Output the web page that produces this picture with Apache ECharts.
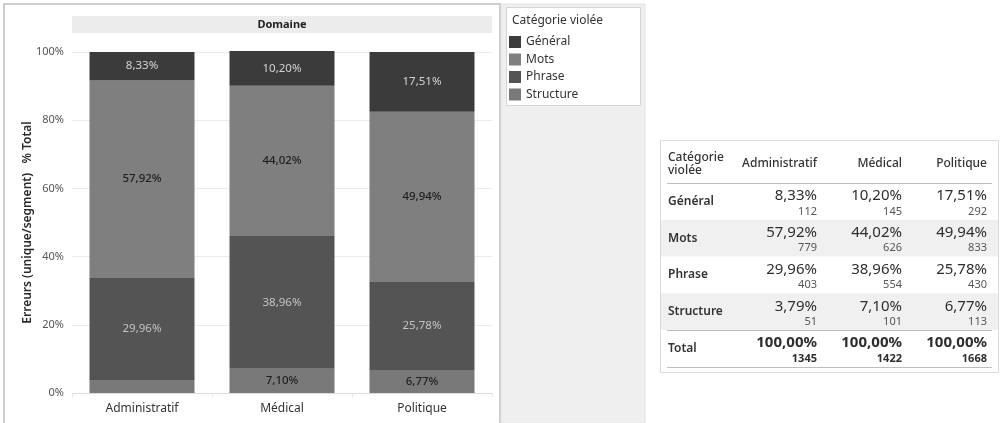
<!DOCTYPE html>
<html>
<head>
<meta charset="utf-8">
<script src="https://cdn.jsdelivr.net/npm/echarts@6/dist/echarts.min.js"></script>
<style>
  html, body { margin: 0; padding: 0; background: #ffffff; }
  #chart { width: 1003px; height: 423px; }
</style>
</head>
<body>
<div id="chart"></div>
<script>
// Domaines (x axis / table columns)
const domaines = ['Administratif', 'Médical', 'Politique'];
// Catégories violées, top of the stack first (legend order)
const categories = ['Général', 'Mots', 'Phrase', 'Structure'];

// % of total per domaine
const pctGeneral   = [8.33, 10.20, 17.51];
const pctMots      = [57.92, 44.02, 49.94];
const pctPhrase    = [29.96, 38.96, 25.78];
const pctStructure = [3.79, 7.10, 6.77];

// distinct error counts per domaine
const nbGeneral   = [112, 145, 292];
const nbMots      = [779, 626, 833];
const nbPhrase    = [403, 554, 430];
const nbStructure = [51, 101, 113];
const nbTotal     = [1345, 1422, 1668];
const pctTotal    = [100, 100, 100];

const yTicks = [0, 20, 40, 60, 80, 100];

const FONT = '"Noto Sans", "DejaVu Sans", sans-serif';
const fmtPct = v => v.toFixed(2).replace('.', ',') + '%';

const colors = {
  'Général': '#3b3b3b',
  'Mots': '#7f7f7f',
  'Phrase': '#545454',
  'Structure': '#797979'
};
const labelColors = {
  'Général': '#d4d4d4',
  'Mots': '#1e1e1e',
  'Phrase': '#c4c4c4',
  'Structure': '#1e1e1e'
};
const pctByCat = { 'Général': pctGeneral, 'Mots': pctMots, 'Phrase': pctPhrase, 'Structure': pctStructure };
const nbByCat  = { 'Général': nbGeneral, 'Mots': nbMots, 'Phrase': nbPhrase, 'Structure': nbStructure };

// stacked from the bottom: Structure, Phrase, Mots, Général
const stackOrder = categories.slice().reverse();
const series = stackOrder.map(cat => ({
  name: cat,
  type: 'bar',
  stack: 'total',
  clip: false,
  barCategoryGap: '25%',
  itemStyle: { color: colors[cat] },
  emphasis: { disabled: true },
  data: pctByCat[cat].map(v => ({
    value: v,
    label: { show: v >= 5 }
  })),
  label: {
    position: 'inside',
    color: labelColors[cat],
    fontFamily: FONT,
    fontSize: 11.5,
    fontWeight: (cat === 'Mots' || cat === 'Structure') ? 500 : 400,
    formatter: p => fmtPct(p.value)
  }
}));

// ---- summary table, drawn as graphic elements ----
const T = { left: 660, top: 140, right: 998, bottom: 372, headLine: 183, rowH: 36.75 };
const colRight = [817, 902, 987];
const tableEls = [];
tableEls.push({
  type: 'rect', z: 0,
  shape: { x: T.left + 0.5, y: T.top + 0.5, width: T.right - T.left, height: T.bottom - T.top },
  style: { fill: '#ffffff', stroke: '#dadada', lineWidth: 1 }
});
tableEls.push({ type: 'text', z: 2, style: { x: 668, y: 157.5, text: 'Catégorie', font: '500 12px ' + FONT, fill: '#333', verticalAlign: 'middle' } });
tableEls.push({ type: 'text', z: 2, style: { x: 668, y: 171, text: 'violée', font: '500 12px ' + FONT, fill: '#333', verticalAlign: 'middle' } });
domaines.forEach((d, j) => {
  tableEls.push({ type: 'text', z: 2, style: { x: colRight[j], y: 164, text: d, font: '500 12px ' + FONT, fill: '#333', align: 'right', verticalAlign: 'middle' } });
});
tableEls.push({ type: 'line', z: 2, shape: { x1: 667, y1: T.headLine + 0.5, x2: 992, y2: T.headLine + 0.5 }, style: { stroke: '#bdbdbd', lineWidth: 1 } });

const rows = categories.map(c => ({ name: c, pct: pctByCat[c], nb: nbByCat[c], bold: false }))
  .concat([{ name: 'Total', pct: pctTotal, nb: nbTotal, bold: true }]);
rows.forEach((r, i) => {
  const top = T.headLine + i * T.rowH;
  if (i === 1 || i === 3) {
    tableEls.push({ type: 'rect', z: 1, shape: { x: T.left + 1, y: top, width: T.right - T.left - 1, height: T.rowH }, style: { fill: '#f0f0f0' } });
  }
  tableEls.push({ type: 'text', z: 2, style: { x: 668, y: top + 18.5, text: r.name, font: '600 12px ' + FONT, fill: '#333', verticalAlign: 'middle' } });
  domaines.forEach((d, j) => {
    tableEls.push({ type: 'text', z: 2, style: { x: colRight[j], y: top + 13, text: fmtPct(r.pct[j]), font: (r.bold ? '700 ' : '400 ') + '15px ' + FONT, fill: '#2e2e2e', align: 'right', verticalAlign: 'middle' } });
    tableEls.push({ type: 'text', z: 2, style: { x: colRight[j], y: top + 28.5, text: String(r.nb[j]), font: (r.bold ? '700 ' : '400 ') + '11px ' + FONT, fill: r.bold ? '#2e2e2e' : '#555', align: 'right', verticalAlign: 'middle' } });
  });
});
const totalTop = T.headLine + 4 * T.rowH;
tableEls.push({ type: 'line', z: 2, shape: { x1: 667, y1: Math.round(totalTop) + 0.5, x2: 992, y2: Math.round(totalTop) + 0.5 }, style: { stroke: '#bdbdbd', lineWidth: 1 } });
tableEls.push({ type: 'line', z: 2, shape: { x1: 667, y1: Math.round(totalTop + T.rowH) + 0.5, x2: 992, y2: Math.round(totalTop + T.rowH) + 0.5 }, style: { stroke: '#bdbdbd', lineWidth: 1 } });

const chart = echarts.init(document.getElementById('chart'), null, { renderer: 'canvas' });
chart.setOption({
  animation: false,
  backgroundColor: '#ffffff',
  textStyle: { fontFamily: FONT },
  grid: { left: 72, right: 511, top: 52, bottom: 30 },
  xAxis: {
    type: 'category',
    data: domaines,
    axisLine: { lineStyle: { color: '#dcdcdc' } },
    axisTick: { show: true, length: 4, lineStyle: { color: '#e6e6e6' } },
    axisLabel: { color: '#333', fontSize: 12, margin: 10, fontFamily: FONT }
  },
  yAxis: {
    type: 'value',
    min: yTicks[0],
    max: yTicks[yTicks.length - 1],
    interval: yTicks[1] - yTicks[0],
    name: 'Erreurs (unique/segment)   % Total',
    nameLocation: 'middle',
    nameGap: 38,
    nameMoveOverlap: false,
    nameTextStyle: { color: '#2a2a2a', fontSize: 12, fontWeight: 600, fontFamily: FONT },
    axisLine: { show: false },
    axisTick: { show: false },
    splitLine: { lineStyle: { color: '#ececec' } },
    axisLabel: { color: '#555', fontSize: 11, margin: 8, fontFamily: FONT, formatter: '{value}%' }
  },
  legend: {
    orient: 'vertical',
    left: 509,
    top: 36,
    padding: 0,
    icon: 'rect',
    itemWidth: 12,
    itemHeight: 12,
    itemGap: 5.5,
    selectedMode: false,
    data: categories,
    textStyle: { color: '#333', fontSize: 12, fontFamily: FONT }
  },
  graphic: [
    // chart pane frame
    { type: 'rect', z: -1, silent: true, shape: { x: 4, y: 4, width: 496, height: 440 }, style: { fill: 'none', stroke: '#cdcdcd', lineWidth: 2 } },
    // "Domaine" header band
    { type: 'rect', z: -1, silent: true, shape: { x: 72, y: 16, width: 420, height: 17 }, style: { fill: '#ececec' } },
    { type: 'text', z: 2, silent: true, style: { x: 282, y: 24.5, text: 'Domaine', font: '700 11px ' + FONT, fill: '#222', align: 'center', verticalAlign: 'middle' } },
    // legend pane
    { type: 'rect', z: -1, silent: true, shape: { x: 501, y: 4, width: 144, height: 419 }, style: { fill: '#efefef', stroke: '#e2e2e2', lineWidth: 1 } },
    { type: 'rect', z: -1, silent: true, shape: { x: 506.5, y: 7.5, width: 134, height: 98 }, style: { fill: '#ffffff', stroke: '#d4d4d4', lineWidth: 1 } },
    { type: 'text', z: 2, silent: true, style: { x: 512, y: 21, text: 'Catégorie violée', font: '400 12px ' + FONT, fill: '#333', verticalAlign: 'middle' } }
  ].concat(tableEls),
  series: series
});
</script>
</body>
</html>
